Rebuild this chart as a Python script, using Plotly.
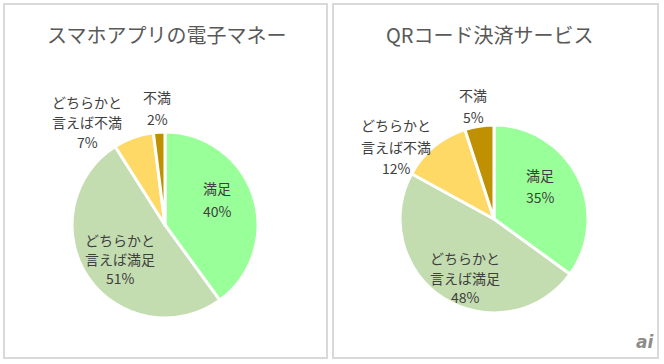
import plotly.graph_objects as go

W, H = 664, 364

categories = ["満足", "どちらかと<br>言えば満足", "どちらかと<br>言えば不満", "不満"]
titles = ["スマホアプリの電子マネー", "QRコード決済サービス"]
values_app = [40, 51, 7, 2]
values_qr = [35, 48, 12, 5]
colors = ["#99FF99", "#C4DDB0", "#FFD966", "#BF9000"]

def px(x, y):
    return x / W, 1 - y / H

fig = go.Figure()

# pie geometry in pixels: (cx, cy, r)
geoms = [(165, 225, 93), (494, 219, 94)]
for vals, (cx, cy, r), name in zip([values_app, values_qr], geoms, titles):
    fig.add_trace(go.Pie(
        values=vals, labels=[c.replace("<br>", "") for c in categories],
        sort=False, direction="clockwise", rotation=0,
        marker=dict(colors=colors, line=dict(color="white", width=3)),
        textinfo="none", hoverinfo="label+percent", showlegend=False,
        domain=dict(x=[(cx - r) / W, (cx + r) / W], y=[1 - (cy + r) / H, 1 - (cy - r) / H]),
        name=name,
    ))

# label positions: (centre x, first line centre y, line spacing) in pixels
label_pos = [
    [(217, 188, 23), (120, 240, 19), (87, 102, 20), (157, 97, 22)],
    [(540, 175, 22), (465, 258, 19.5), (396, 125, 21.5), (473, 95, 22)],
]
annotations = []
lab_font = dict(family="Noto Sans CJK JP", size=14, color="#404040")
for vals, poss in zip([values_app, values_qr], label_pos):
    for cat, v, (x, y, dy) in zip(categories, vals, poss):
        lines = cat.split("<br>") + [f"{v}%"]
        for i, ln in enumerate(lines):
            ax, ay = px(x, y + i * dy)
            annotations.append(dict(text=ln, x=ax, y=ay, xref="paper", yref="paper",
                                    showarrow=False, font=lab_font, align="center",
                                    xanchor="center", yanchor="middle"))

for t, (x, y) in zip(titles, [(166, 34), (490, 34)]):
    ax, ay = px(x, y)
    annotations.append(dict(text=t, x=ax, y=ay, xref="paper", yref="paper", showarrow=False,
                            font=dict(family="Noto Sans CJK JP", size=20, color="#595959"),
                            xanchor="center", yanchor="middle"))

ax, ay = px(645, 342)
annotations.append(dict(text="<b><i>ai</i></b>", x=ax, y=ay, xref="paper", yref="paper",
                        showarrow=False, font=dict(family="DejaVu Sans", size=17, color="#8C8C8C"),
                        xanchor="center", yanchor="middle"))

shapes = []
for x0, x1 in [(4, 327), (333, 658)]:
    X0, Y1 = px(x0, 4)
    X1, Y0 = px(x1, 358)
    shapes.append(dict(type="rect", xref="paper", yref="paper", x0=X0, x1=X1, y0=Y0, y1=Y1,
                       line=dict(color="#D9D9D9", width=2), fillcolor="rgba(0,0,0,0)", layer="below"))

fig.update_layout(width=W, height=H, margin=dict(l=0, r=0, t=0, b=0),
                  paper_bgcolor="white", plot_bgcolor="white",
                  annotations=annotations, shapes=shapes)

fig.write_html("out.html", config=dict(displayModeBar=False),
               post_script="document.body.style.margin='0';document.body.style.overflow='hidden';")
